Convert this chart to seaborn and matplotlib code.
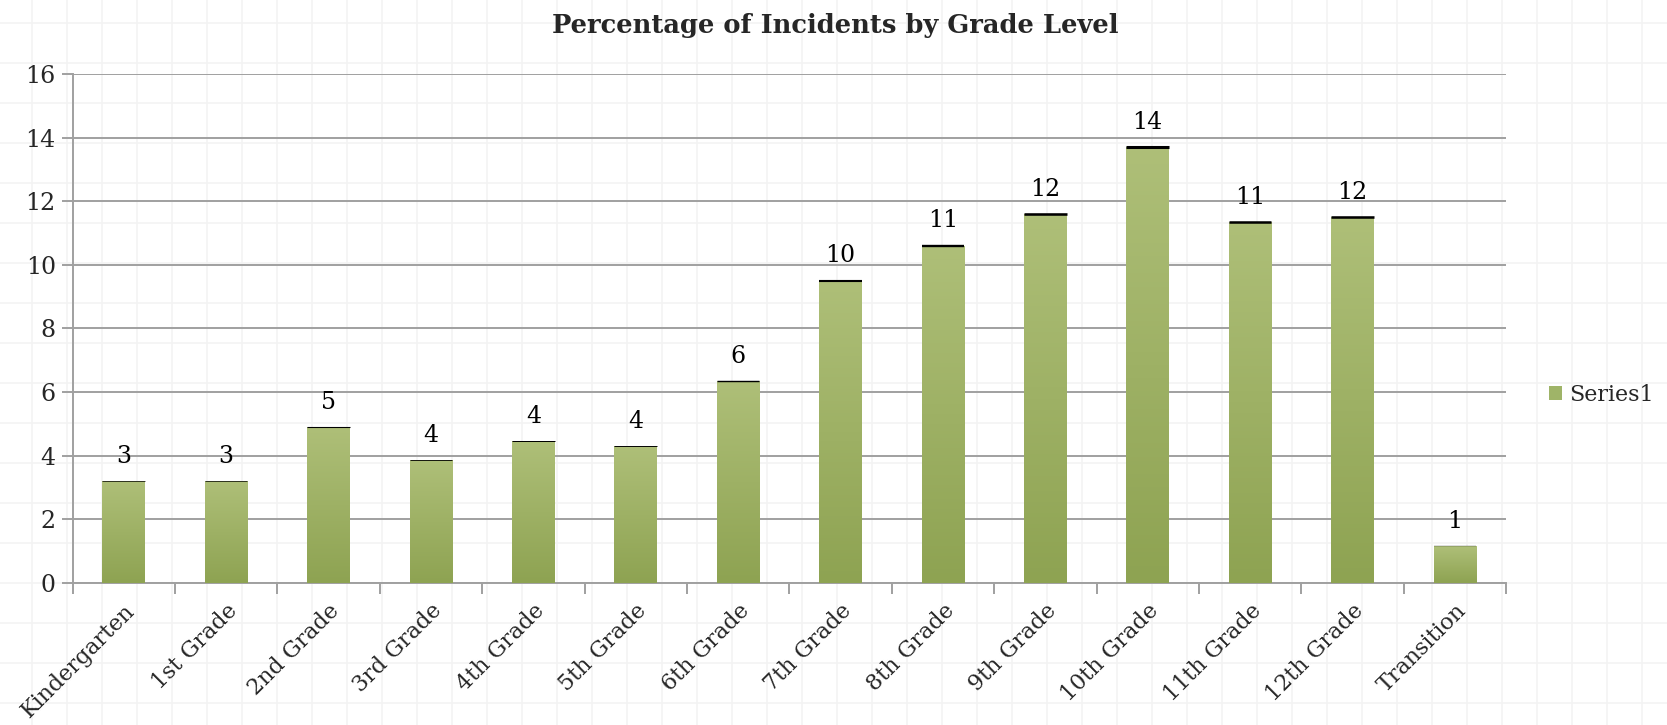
import numpy as np
import pandas as pd
import matplotlib
matplotlib.use('Agg')
import matplotlib.pyplot as plt
import matplotlib.patches as mpatches
import matplotlib.transforms as mtransforms
from matplotlib.colors import LinearSegmentedColormap
import seaborn as sns

# data
grades = ["Kindergarten", "1st Grade", "2nd Grade", "3rd Grade", "4th Grade",
          "5th Grade", "6th Grade", "7th Grade", "8th Grade", "9th Grade",
          "10th Grade", "11th Grade", "12th Grade", "Transition"]
percent = [3.2, 3.2, 4.9, 3.85, 4.45, 4.3, 6.35, 9.5, 10.6, 11.6,
           13.7, 11.35, 11.5, 1.15]
y_ticks = [0, 2, 4, 6, 8, 10, 12, 14, 16]

df = pd.DataFrame({"grade": grades, "pct": percent})

sns.set_theme(style="white")
plt.rcParams['font.family'] = ['DejaVu Serif']

fig = plt.figure(figsize=(16.67, 7.25), dpi=100)

# faint background grid over the whole figure
bg = fig.add_axes([0, 0, 1, 1], zorder=0)
bg.set_xlim(0, 1667)
bg.set_ylim(725, 0)
bg.set_xticks(np.arange(32, 1667, 35))
bg.set_yticks(np.arange(23, 725, 40))
bg.grid(True, color="#f3f3f3", lw=1.2)
bg.tick_params(length=0, labelbottom=False, labelleft=False)
for s in bg.spines.values():
    s.set_visible(False)

ax = fig.add_axes([0.0435, 0.196, 0.860, 0.702], zorder=1)
ax.patch.set_alpha(0)

bar_w = 0.415
sns.barplot(data=df, x="grade", y="pct", order=grades, color="#9fb468",
            width=bar_w, ax=ax, zorder=3)

# vertical gradient fill for each bar
cmap = LinearSegmentedColormap.from_list("g", ["#8ea352", "#aebf78"])
grad = np.linspace(0, 1, 100).reshape(-1, 1)
for p in ax.patches:
    x0, y0 = p.get_x(), p.get_y()
    w, h = p.get_width(), p.get_height()
    p.set_facecolor("none")
    p.set_edgecolor("none")
    im = ax.imshow(grad, cmap=cmap, origin="lower", aspect="auto",
                   extent=[x0, x0 + w, y0, y0 + h], zorder=3)
    im.set_clip_path(p)

# thin dark cap on each bar
xs = np.arange(len(grades))
ax.hlines(percent, xs - bar_w / 2, xs + bar_w / 2, colors="black",
          linewidths=[v * 0.16 for v in percent], zorder=4)

# data labels
for i, v in enumerate(percent):
    ax.text(i, v + 0.42, f"{int(np.floor(v + 0.5))}", ha="center", va="bottom",
            fontsize=17, color="black", zorder=5)

ax.set_xlim(-0.5, len(grades) - 0.5)
ax.set_ylim(0, 16)
ax.set_yticks(y_ticks)
ax.set_yticklabels([str(t) for t in y_ticks], fontsize=17)
ax.yaxis.grid(True, color="#a0a0a0", lw=1.4, zorder=1)
ax.set_axisbelow(True)

ax.set_xticks(xs)
ax.set_xticklabels(grades, rotation=45, ha="right", rotation_mode="anchor",
                   fontsize=16)
shift = mtransforms.ScaledTranslation(6 / 100, 0, fig.dpi_scale_trans)
for lbl in ax.get_xticklabels():
    lbl.set_transform(lbl.get_transform() + shift)
ax.set_xticks(np.arange(-0.5, len(grades), 1), minor=True)
ax.tick_params(axis="x", which="major", length=0, pad=12)
ax.tick_params(axis="x", which="minor", length=8, width=1.4, color="#a0a0a0",
               direction="out", bottom=True)
ax.tick_params(axis="y", length=8, width=1.4, color="#a0a0a0",
               direction="out", left=True, pad=4)

ax.set_xlabel("")
ax.set_ylabel("")
for side in ["top", "right"]:
    ax.spines[side].set_visible(False)
for side in ["left", "bottom"]:
    ax.spines[side].set_color("#a0a0a0")
    ax.spines[side].set_linewidth(1.4)

fig.text(0.501, 0.965, "Percentage of Incidents by Grade Level", ha="center",
         va="center", fontsize=18.5, fontweight="bold")

handle = mpatches.Patch(facecolor="#9fb468", edgecolor="none", label="Series1")
fig.legend(handles=[handle], loc="center left", bbox_to_anchor=(0.929, 0.455),
           frameon=False, fontsize=16, handlelength=0.6, handleheight=0.6,
           handletextpad=0.3, borderpad=0, borderaxespad=0)

fig.savefig("out.png", dpi=100)
